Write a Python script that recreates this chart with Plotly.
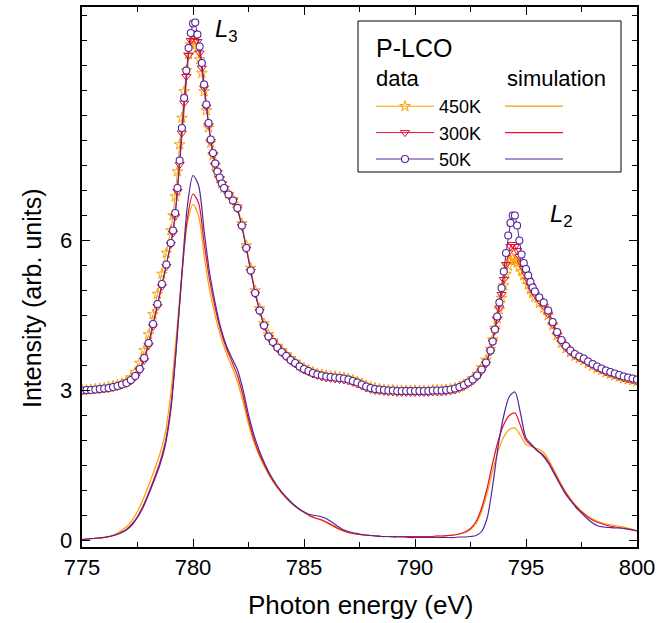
import numpy as np
import plotly.graph_objects as go

# ---------------- data ----------------
# measured energies: 0.2 eV steps, 0.1 eV steps across the two edges
energy_data = np.round(np.concatenate([
    np.linspace(775.0, 779.0, 21),
    np.linspace(779.1, 781.4, 24),
    np.linspace(781.6, 793.4, 60),
    np.linspace(793.5, 795.4, 20),
    np.linspace(795.6, 800.0, 23),
]), 2)
energy_sim = np.round(np.linspace(775.0, 800.0, 101), 2)

data_50K = [
    # 775.0 - 779.0
    3.00, 3.01, 3.01, 3.02, 3.03, 3.04, 3.05, 3.07, 3.09, 3.12,
    3.15, 3.21, 3.29, 3.43, 3.65, 3.95, 4.33, 4.73, 5.13, 5.52, 5.95,
    # 779.1 - 781.4
    6.20, 6.55, 7.05, 7.60, 8.25, 8.85, 9.40, 9.85, 10.15, 10.34,
    10.36, 10.12, 9.88, 9.55, 9.12, 8.72, 8.35, 8.02, 7.75, 7.54,
    7.38, 7.26, 7.14, 7.05,
    # 781.6 - 793.4
    6.92, 6.80, 6.65, 6.30, 5.85, 5.40, 4.95, 4.60, 4.30, 4.08,
    3.97, 3.86, 3.77, 3.69, 3.61, 3.55, 3.48, 3.43, 3.39, 3.35,
    3.32, 3.30, 3.28, 3.27, 3.26, 3.25, 3.24, 3.22, 3.19, 3.16,
    3.12, 3.08, 3.05, 3.03, 3.02, 3.01, 3.00, 3.00, 2.99, 2.99,
    2.99, 2.99, 2.99, 2.99, 2.99, 2.99, 3.00, 3.00, 3.00, 3.01,
    3.02, 3.04, 3.07, 3.11, 3.16, 3.22, 3.30, 3.42, 3.56, 3.80,
    # 793.5 - 795.4
    3.98, 4.22, 4.48, 4.76, 5.05, 5.38, 5.75, 6.10, 6.35, 6.50,
    6.50, 6.30, 6.00, 5.72, 5.55, 5.43, 5.30, 5.17, 5.06, 4.98,
    # 795.6 - 800.0
    4.86, 4.76, 4.60, 4.37, 4.17, 4.01, 3.89, 3.80, 3.73, 3.68,
    3.64, 3.58, 3.53, 3.48, 3.44, 3.40, 3.37, 3.34, 3.31, 3.28,
    3.26, 3.24, 3.22,
]
data_300K = [
    3.00, 3.00, 3.01, 3.02, 3.02, 3.03, 3.04, 3.06, 3.08, 3.11,
    3.14, 3.19, 3.27, 3.40, 3.60, 3.90, 4.28, 4.68, 5.08, 5.48, 5.92,
    6.15, 6.48, 6.98, 7.52, 8.15, 8.75, 9.28, 9.70, 10.00, 10.15,
    10.14, 9.98, 9.75, 9.45, 9.05, 8.67, 8.30, 7.98, 7.72, 7.51,
    7.36, 7.24, 7.13, 7.04,
    6.91, 6.79, 6.63, 6.28, 5.83, 5.38, 4.93, 4.58, 4.28, 4.06,
    3.95, 3.84, 3.75, 3.67, 3.59, 3.53, 3.46, 3.41, 3.37, 3.33,
    3.30, 3.27, 3.25, 3.24, 3.23, 3.22, 3.21, 3.19, 3.16, 3.13,
    3.09, 3.05, 3.02, 3.00, 2.99, 2.98, 2.97, 2.97, 2.96, 2.96,
    2.96, 2.96, 2.96, 2.96, 2.96, 2.96, 2.97, 2.97, 2.97, 2.98,
    2.99, 3.01, 3.04, 3.08, 3.13, 3.19, 3.27, 3.39, 3.53, 3.77,
    3.97, 4.20, 4.42, 4.65, 4.92, 5.22, 5.52, 5.75, 5.88, 5.92,
    5.88, 5.80, 5.68, 5.55, 5.44, 5.33, 5.21, 5.10, 5.01, 4.93,
    4.80, 4.69, 4.53, 4.32, 4.12, 3.97, 3.86, 3.77, 3.70, 3.65,
    3.61, 3.55, 3.50, 3.45, 3.41, 3.37, 3.34, 3.31, 3.28, 3.25,
    3.23, 3.21, 3.19,
]
data_450K = [
    3.01, 3.01, 3.02, 3.03, 3.04, 3.05, 3.07, 3.09, 3.11, 3.14,
    3.18, 3.26, 3.37, 3.55, 3.80, 4.12, 4.52, 4.93, 5.33, 5.75, 6.20,
    6.50, 6.88, 7.38, 7.92, 8.45, 8.98, 9.40, 9.72, 9.92, 10.00,
    9.98, 9.85, 9.62, 9.35, 8.98, 8.60, 8.26, 7.95, 7.70, 7.50,
    7.36, 7.24, 7.14, 7.05,
    6.93, 6.82, 6.68, 6.34, 5.90, 5.45, 5.00, 4.64, 4.34, 4.12,
    4.00, 3.89, 3.80, 3.72, 3.64, 3.57, 3.50, 3.45, 3.41, 3.37,
    3.34, 3.32, 3.30, 3.29, 3.28, 3.27, 3.26, 3.24, 3.21, 3.18,
    3.14, 3.10, 3.07, 3.05, 3.03, 3.02, 3.01, 3.01, 3.00, 3.00,
    3.00, 3.00, 3.00, 3.00, 3.00, 3.00, 3.01, 3.01, 3.01, 3.02,
    3.03, 3.05, 3.08, 3.12, 3.17, 3.24, 3.33, 3.46, 3.61, 3.83,
    4.02, 4.25, 4.44, 4.62, 4.85, 5.10, 5.33, 5.50, 5.60, 5.63,
    5.60, 5.55, 5.47, 5.38, 5.30, 5.22, 5.12, 5.02, 4.94, 4.87,
    4.75, 4.65, 4.50, 4.30, 4.10, 3.95, 3.84, 3.76, 3.69, 3.64,
    3.60, 3.54, 3.49, 3.44, 3.40, 3.36, 3.33, 3.30, 3.27, 3.24,
    3.22, 3.20, 3.18,
]

sim_50K = [
    0.02, 0.03, 0.04, 0.05, 0.06, 0.08, 0.11, 0.15, 0.21, 0.31,
    0.46, 0.66, 0.92, 1.20, 1.50, 1.90, 2.60, 3.85, 5.35, 6.70,
    7.30, 7.10, 6.20, 5.35, 4.75, 4.25, 3.90, 3.65, 3.42, 3.02,
    2.52, 2.10, 1.78, 1.52, 1.30, 1.12, 0.97, 0.84, 0.73, 0.64,
    0.57, 0.52, 0.50, 0.48, 0.44, 0.37, 0.29, 0.22, 0.18, 0.15,
    0.13, 0.11, 0.10, 0.09, 0.08, 0.08, 0.07, 0.07, 0.07, 0.06,
    0.06, 0.06, 0.06, 0.06, 0.06, 0.06, 0.06, 0.06, 0.07, 0.07,
    0.08, 0.10, 0.18, 0.45, 1.10, 1.90, 2.50, 2.88, 2.97, 2.55,
    2.05, 1.92, 1.80, 1.70, 1.55, 1.35, 1.15, 0.95, 0.80, 0.66,
    0.55, 0.44, 0.35, 0.29, 0.27, 0.26, 0.25, 0.25, 0.24, 0.22,
    0.19,
]
sim_300K = [
    0.02, 0.03, 0.04, 0.05, 0.06, 0.08, 0.11, 0.16, 0.22, 0.33,
    0.48, 0.69, 0.95, 1.24, 1.55, 1.97, 2.68, 3.90, 5.30, 6.45,
    6.93, 6.75, 5.95, 5.20, 4.65, 4.20, 3.85, 3.58, 3.30, 2.90,
    2.42, 2.02, 1.72, 1.48, 1.27, 1.10, 0.96, 0.84, 0.73, 0.64,
    0.57, 0.50, 0.45, 0.42, 0.37, 0.31, 0.25, 0.20, 0.16, 0.14,
    0.12, 0.11, 0.10, 0.09, 0.08, 0.08, 0.08, 0.08, 0.08, 0.08,
    0.08, 0.08, 0.08, 0.08, 0.09, 0.09, 0.10, 0.11, 0.13, 0.17,
    0.24, 0.38, 0.65, 1.05, 1.55, 2.00, 2.32, 2.50, 2.55, 2.30,
    2.00, 1.90, 1.80, 1.72, 1.58, 1.38, 1.17, 0.98, 0.82, 0.68,
    0.57, 0.48, 0.41, 0.36, 0.32, 0.29, 0.27, 0.25, 0.23, 0.21,
    0.19,
]
sim_450K = [
    0.02, 0.03, 0.04, 0.05, 0.07, 0.09, 0.13, 0.19, 0.27, 0.40,
    0.58, 0.82, 1.10, 1.40, 1.72, 2.15, 2.95, 4.10, 5.35, 6.35,
    6.72, 6.50, 5.70, 5.00, 4.50, 4.08, 3.75, 3.48, 3.18, 2.78,
    2.33, 1.96, 1.68, 1.45, 1.25, 1.08, 0.94, 0.82, 0.72, 0.63,
    0.56, 0.49, 0.45, 0.41, 0.36, 0.30, 0.24, 0.19, 0.16, 0.13,
    0.12, 0.11, 0.10, 0.09, 0.08, 0.08, 0.08, 0.08, 0.08, 0.08,
    0.08, 0.08, 0.08, 0.08, 0.09, 0.09, 0.10, 0.11, 0.13, 0.16,
    0.22, 0.34, 0.58, 0.95, 1.40, 1.80, 2.07, 2.22, 2.25, 2.10,
    1.92, 1.88, 1.84, 1.78, 1.63, 1.42, 1.20, 1.00, 0.84, 0.70,
    0.59, 0.50, 0.43, 0.38, 0.34, 0.32, 0.30, 0.28, 0.26, 0.23,
    0.20,
]

temps = ["450K", "300K", "50K"]
x_ticks = [775, 780, 785, 790, 795, 800]
y_ticks = [0, 3, 6]

# ---------------- styling ----------------
ORANGE = "#F7A000"
RED = "#E8102E"
PURPLE = "#55259A"
FONT = "Liberation Sans, Arial, sans-serif"

colors = {"450K": ORANGE, "300K": RED, "50K": PURPLE}
data_vals = {"450K": data_450K, "300K": data_300K, "50K": data_50K}
sim_vals = {"450K": sim_450K, "300K": sim_300K, "50K": sim_50K}
markers = {
    "450K": dict(symbol="star-open", size=8, color=ORANGE, line=dict(color=ORANGE, width=1)),
    "300K": dict(symbol="triangle-down-open", size=8, color=RED, line=dict(color=RED, width=1)),
    "50K": dict(symbol="circle", size=7, color="white", line=dict(color=PURPLE, width=1.1)),
}

fig = go.Figure()

# simulations (lines)
for t in temps:
    fig.add_trace(go.Scatter(
        x=energy_sim, y=sim_vals[t], mode="lines",
        line=dict(color=colors[t], width=1.2, shape="spline", smoothing=0.8),
        name=" ", legend="legend2", showlegend=True,
    ))

# experimental data (lines + markers)
for t in temps:
    fig.add_trace(go.Scatter(
        x=energy_data, y=data_vals[t], mode="lines+markers",
        line=dict(color=colors[t], width=1),
        marker=markers[t],
        name=t, legend="legend",
    ))

axis_common = dict(
    showline=True, linecolor="black", linewidth=1.6, mirror="allticks",
    ticks="inside", ticklen=8, tickwidth=1.4, tickcolor="black",
    showgrid=False, zeroline=False, automargin=False,
    tickfont=dict(family=FONT, size=22, color="black"),
)

fig.update_xaxes(
    range=[775, 800], tickmode="array", tickvals=x_ticks,
    ticktext=[str(v) for v in x_ticks],
    minor=dict(tickmode="linear", tick0=775, dtick=2.5, ticks="inside",
               ticklen=5, tickwidth=1.2, tickcolor="black"),
    **axis_common,
)
fig.update_yaxes(
    range=[-0.13, 10.67], tickmode="array", tickvals=y_ticks,
    showticklabels=False,
    minor=dict(tickmode="linear", tick0=0, dtick=0.5, ticks="inside",
               ticklen=5, tickwidth=1.2, tickcolor="black"),
    **axis_common,
)

# page geometry (body margin removed below, so these are screen pixels)
W, H = 669, 623
ML, MR, MT, MB = 82, 32, 7, 76
PW, PH = W - ML - MR, H - MT - MB


def px(xp):
    return (xp - ML) / PW


def py(yp):
    return 1 - (yp - MT) / PH


# y tick labels
for v in y_ticks:
    fig.add_annotation(xref="paper", yref="y", x=px(74), y=v, text=str(v),
                       showarrow=False, xanchor="right", yanchor="middle",
                       font=dict(family=FONT, size=22, color="black"))

# axis titles
fig.add_annotation(xref="paper", yref="paper", x=px(360), y=py(605),
                   text="Photon energy (eV)", showarrow=False,
                   xanchor="center", yanchor="middle",
                   font=dict(family=FONT, size=26, color="black"))
fig.add_annotation(xref="paper", yref="paper", x=px(32), y=py(298),
                   text="Intensity (arb. units)", showarrow=False, textangle=-90,
                   xanchor="center", yanchor="middle",
                   font=dict(family=FONT, size=25, color="black"))

# legend box and headers
fig.add_shape(type="rect", xref="paper", yref="paper",
              x0=px(358), x1=px(621), y0=py(172), y1=py(21),
              line=dict(color="black", width=1), fillcolor="white", layer="below")

fig.add_annotation(xref="paper", yref="paper", x=px(374), y=py(48),
                   text="P-LCO", showarrow=False, xanchor="left", yanchor="middle",
                   font=dict(family=FONT, size=25, color="black"))
fig.add_annotation(xref="paper", yref="paper", x=px(374), y=py(78),
                   text="data", showarrow=False, xanchor="left", yanchor="middle",
                   font=dict(family=FONT, size=22, color="black"))
fig.add_annotation(xref="paper", yref="paper", x=px(505), y=py(78),
                   text="simulation", showarrow=False, xanchor="left", yanchor="middle",
                   font=dict(family=FONT, size=22, color="black"))

# peak labels
fig.add_annotation(x=780.9, y=10.2, text="<i>L</i><sub>3</sub>", showarrow=False,
                   xanchor="left", yanchor="middle",
                   font=dict(family=FONT, size=24, color="black"))
fig.add_annotation(x=796.0, y=6.5, text="<i>L</i><sub>2</sub>", showarrow=False,
                   xanchor="left", yanchor="middle",
                   font=dict(family=FONT, size=24, color="black"))

legend_common = dict(
    bgcolor="rgba(0,0,0,0)", borderwidth=0, itemwidth=58,
    font=dict(family=FONT, size=18, color="black"),
    xanchor="left", yanchor="top", tracegroupgap=0, itemclick=False,
    itemdoubleclick=False,
)

fig.update_layout(
    width=W, height=H,
    margin=dict(l=ML, r=MR, t=MT, b=MB, autoexpand=False),
    paper_bgcolor="white", plot_bgcolor="white",
    font=dict(family=FONT, color="black"),
    legend=dict(x=px(371), y=py(88), **legend_common),
    legend2=dict(x=px(500), y=py(88), **legend_common),
    showlegend=True,
)

fig.write_html("out.html", config={"displayModeBar": False},
               post_script="document.body.style.margin='0';")
